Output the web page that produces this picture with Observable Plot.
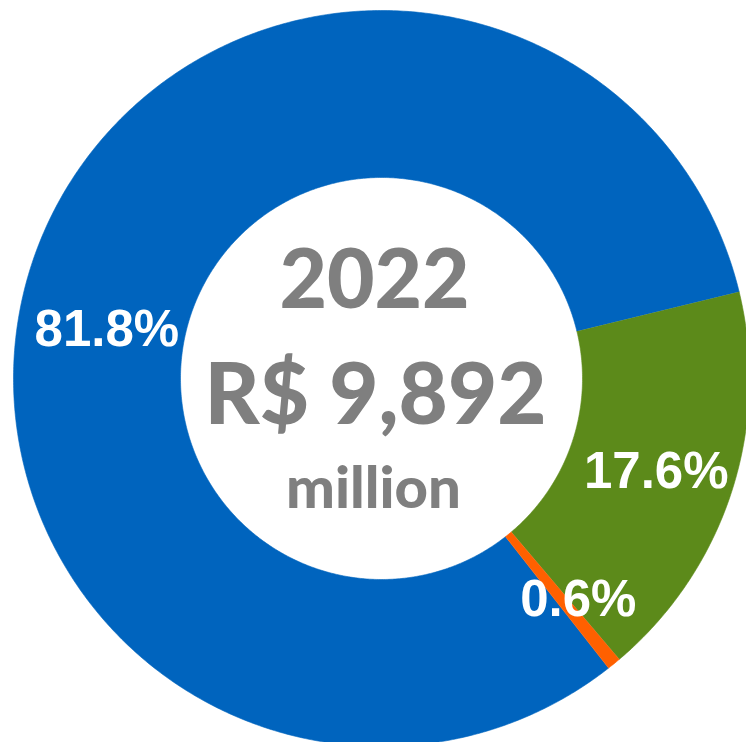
<!DOCTYPE html>
<html>
<head>
<meta charset="utf-8">
<script src="https://cdn.jsdelivr.net/npm/d3@7"></script>
<script src="https://cdn.jsdelivr.net/npm/@observablehq/plot@0.6"></script>
<style>
  html, body { margin: 0; padding: 0; background: #fff; }
  #chart svg { display: block; }
</style>
</head>
<body>
<div id="chart"></div>
<script>
// ---- Data ----
const categories = ["Segment A", "Segment B", "Segment C"];
const shares = [81.8, 17.6, 0.6];
const shareLabels = ["81.8%", "17.6%", "0.6%"];
const sliceColors = ["#0064BE", "#5C8A1A", "#FF6000"];
const centerLines = ["2022", "R$ 9,892", "million"];

// ---- Layout ----
const W = 746, H = 742;
const cx = 381, cy = 378;
const outerR = 368, innerR = 201;
const startDeg = 141.9;
const rad = Math.PI / 180;

const arcs = d3.pie().sort(null).value(d => d)
  .startAngle(startDeg * rad).endAngle(startDeg * rad + 2 * Math.PI)(shares);

// polygon outline of each ring slice (sampled arcs)
const ringPts = [];
arcs.forEach((a, i) => {
  const n = Math.max(4, Math.ceil((a.endAngle - a.startAngle) / (0.5 * rad)));
  for (let k = 0; k <= n; k++) {
    const t = a.startAngle + (a.endAngle - a.startAngle) * k / n;
    ringPts.push({cat: categories[i], x: Math.sin(t) * outerR, y: -Math.cos(t) * outerR});
  }
  for (let k = n; k >= 0; k--) {
    const t = a.startAngle + (a.endAngle - a.startAngle) * k / n;
    ringPts.push({cat: categories[i], x: Math.sin(t) * innerR, y: -Math.cos(t) * innerR});
  }
});

// label anchors
const labelNudgeDeg = [-9, 0.6, -2.5];
const labelR = [279, 290, 296];
const labels = arcs.map((a, i) => {
  const m = (a.startAngle + a.endAngle) / 2 + labelNudgeDeg[i] * rad;
  return {text: shareLabels[i], x: Math.sin(m) * labelR[i], y: -Math.cos(m) * labelR[i]};
});

const centerFont = "Lato, 'Open Sans', sans-serif";

const chart = Plot.plot({
  width: W,
  height: H,
  margin: 0,
  x: {domain: [-cx, W - cx], range: [0, W], axis: null},
  y: {domain: [-cy, H - cy], range: [0, H], axis: null},
  color: {domain: categories, range: sliceColors},
  marks: [
    Plot.line(ringPts, {x: "x", y: "y", z: "cat", fill: "cat", stroke: "cat", strokeWidth: 0.6, curve: "linear"}),
    Plot.text(labels, {x: "x", y: "y", text: "text", fill: "white",
      fontFamily: "'Liberation Sans', Arial, sans-serif", fontWeight: "bold", fontSize: 51}),
    Plot.text([centerLines[0]], {x: 0, y: 0, text: d => d, dx: -7, dy: -97,
      fill: "#7F7F7F", fontFamily: centerFont, fontWeight: 900, fontSize: 82}),
    Plot.text([centerLines[1]], {x: 0, y: 0, text: d => d, dx: -6, dy: 18,
      fill: "#7F7F7F", fontFamily: centerFont, fontWeight: 900, fontSize: 85}),
    Plot.text([centerLines[2]], {x: 0, y: 0, text: d => d, dx: -8, dy: 111,
      fill: "#7F7F7F", fontFamily: centerFont, fontWeight: 900, fontSize: 58})
  ]
});
document.getElementById("chart").appendChild(chart);
</script>
</body>
</html>
